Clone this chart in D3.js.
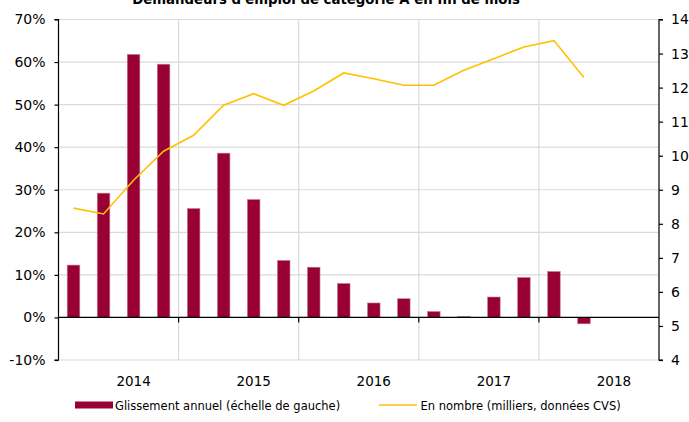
<!DOCTYPE html>
<html>
<head>
<meta charset="utf-8">
<script src="https://cdn.jsdelivr.net/npm/d3@7"></script>
<style>
  body { margin: 0; background: #fff; }
  svg { display: block; font-family: "DejaVu Sans", sans-serif; }
</style>
</head>
<body>
<svg id="chart" width="689" height="422"></svg>
<script>

const title = "Demandeurs d'emploi de catégorie A en fin de mois"
const years = ["2014", "2015", "2016", "2017", "2018"]
const quarters = years.flatMap((y) => ["T1", "T2", "T3", "T4"].map((q) => y + q))

// glissement annuel, %
const growth = [12.3, 29.2, 61.8, 59.5, 25.6, 38.6, 27.7, 13.4, 11.8, 8.0,
  3.4, 4.4, 1.4, 0.2, 4.8, 9.4, 10.8, -1.5]
// en nombre, milliers
const level = [8.46, 8.29, 9.28, 10.13, 10.6, 11.48, 11.82, 11.48, 11.9, 12.43,
  12.26, 12.07, 12.07, 12.51, 12.85, 13.19, 13.38, 12.3]

const leftTicks = [-10, 0, 10, 20, 30, 40, 50, 60, 70]
const rightTicks = [4, 5, 6, 7, 8, 9, 10, 11, 12, 13, 14]
const legendLabels = ["Glissement annuel (échelle de gauche)", "En nombre (milliers, données CVS)"]

const barColor = "#990033"
const lineColor = "#ffc000"
const gridColor = "#dadada"

const width = 689
const height = 422
const margin = { top: 19.5, right: 30, bottom: 62, left: 58.5 }

const svg = d3.select("#chart")

const xScale = d3.scaleBand()
  .domain(quarters)
  .range([margin.left, width - margin.right])
  .paddingInner(0.58)
  .paddingOuter(0.29)

const yLeft = d3.scaleLinear()
  .domain([-10, 70])
  .range([height - margin.bottom, margin.top])

const yRight = d3.scaleLinear()
  .domain([4, 14])
  .range([height - margin.bottom, margin.top])

const step = xScale.step()
const x0 = margin.left
const x1 = width - margin.right

// horizontal grid
svg.append("g")
  .selectAll("line")
  .data(leftTicks.filter((d) => d !== 0))
  .join("line")
  .attr("x1", x0).attr("x2", x1)
  .attr("y1", (d) => yLeft(d)).attr("y2", (d) => yLeft(d))
  .attr("stroke", gridColor)
  .attr("stroke-width", 1.2)

// vertical grid between years
svg.append("g")
  .selectAll("line")
  .data(years.slice(1))
  .join("line")
  .attr("x1", (d) => xScale(d + "T1") - step * 0.29)
  .attr("x2", (d) => xScale(d + "T1") - step * 0.29)
  .attr("y1", margin.top).attr("y2", height - margin.bottom)
  .attr("stroke", gridColor)
  .attr("stroke-width", 1.2)

// bars
svg.append("g")
  .selectAll("rect")
  .data(growth)
  .join("rect")
  .attr("x", (d, i) => xScale(quarters[i]))
  .attr("y", (d) => yLeft(Math.max(0, d)))
  .attr("width", xScale.bandwidth())
  .attr("height", (d) => Math.abs(yLeft(d) - yLeft(0)))
  .attr("fill", barColor)
  .attr("stroke", "#c7839a")
  .attr("stroke-width", 0.6)

// zero line with year ticks
const zero = svg.append("g")
  .attr("transform", `translate(0, ${yLeft(0)})`)
zero.append("line")
  .attr("x1", x0).attr("x2", x1)
  .attr("stroke", "#000").attr("stroke-width", 1.2)
zero.selectAll(".yt")
  .data(years.slice(1))
  .join("line")
  .attr("class", "yt")
  .attr("x1", (d) => xScale(d + "T1") - step * 0.29)
  .attr("x2", (d) => xScale(d + "T1") - step * 0.29)
  .attr("y1", 0).attr("y2", 5)
  .attr("stroke", "#000").attr("stroke-width", 1.2)

// line
const line = d3.line()
  .x((d, i) => xScale(quarters[i]) + xScale.bandwidth() / 2)
  .y((d) => yRight(d))

svg.append("path")
  .datum(level)
  .attr("d", line)
  .attr("fill", "none")
  .attr("stroke", lineColor)
  .attr("stroke-width", 1.6)

// axes
svg.append("g")
  .attr("transform", `translate(${x0}, 0)`)
  .call(d3.axisLeft(yLeft).tickValues(leftTicks).tickSize(4).tickPadding(9).tickFormat((d) => d + "%"))
  .call((g) => g.select(".domain").attr("d", `M-4,${yLeft(70)}H0V${yLeft(-10)}H-4`))
  .attr("font-size", 14)
  .attr("font-family", "DejaVu Sans, sans-serif")
  .selectAll("line, path").attr("stroke-width", 1.2)

svg.append("g")
  .attr("transform", `translate(${x1}, 0)`)
  .call(d3.axisRight(yRight).tickValues(rightTicks).tickSize(4).tickPadding(8))
  .call((g) => g.select(".domain").attr("d", `M4,${yRight(14)}H0V${yRight(4)}H4`))
  .attr("font-size", 14)
  .attr("font-family", "DejaVu Sans, sans-serif")
  .selectAll("line, path").attr("stroke-width", 1.2)

// year labels
svg.append("g")
  .selectAll("text")
  .data(years)
  .join("text")
  .attr("x", (d) => xScale(d + "T3") + xScale.bandwidth() / 2)
  .attr("y", 386)
  .attr("text-anchor", "middle")
  .attr("font-size", 13.5)
  .attr("fill", "#000")
  .text((d) => d)

// title, cut off at the top like the source
svg.append("text")
  .attr("x", 326)
  .attr("y", 3.5)
  .attr("text-anchor", "middle")
  .attr("font-size", 13.3)
  .attr("font-weight", "bold")
  .text(title)

// legend
const legend = svg.append("g").attr("font-size", 11.5)
legend.append("rect")
  .attr("x", 75).attr("y", 401.5)
  .attr("width", 38).attr("height", 7)
  .attr("fill", barColor)
legend.append("text")
  .attr("x", 115).attr("y", 409.5)
  .text(legendLabels[0])
legend.append("line")
  .attr("x1", 379).attr("x2", 417)
  .attr("y1", 405).attr("y2", 405)
  .attr("stroke", lineColor).attr("stroke-width", 1.6)
legend.append("text")
  .attr("x", 420.5).attr("y", 409.5)
  .text(legendLabels[1])

</script>
</body>
</html>
